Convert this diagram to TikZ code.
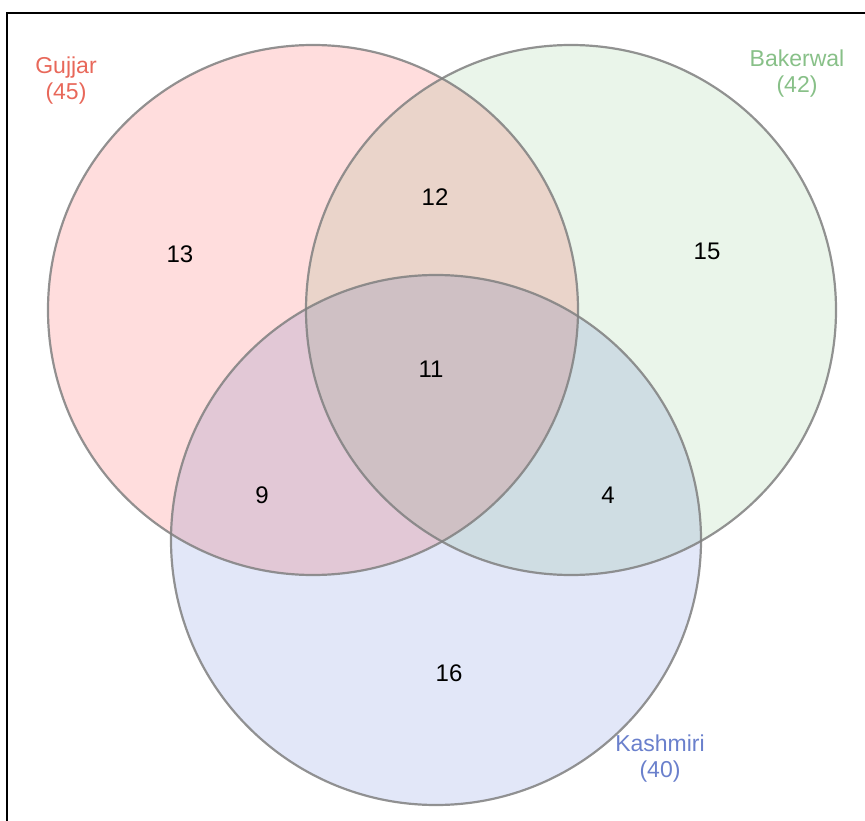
\documentclass[tikz,border=0pt]{standalone}
\usepackage{fontspec}
\setmainfont{Liberation Sans}
\definecolor{gujjarfill}{HTML}{FFDDDD}
\definecolor{bakerwalfill}{HTML}{EAF5EA}
\definecolor{kashmirifill}{HTML}{E2E7F8}
\definecolor{gujjartext}{HTML}{E8685A}
\definecolor{bakerwaltext}{HTML}{88C088}
\definecolor{kashmiritext}{HTML}{6A80CC}
\tikzset{
  setfill/.style={circle, fill=#1, minimum size=530pt, inner sep=0pt},
  rim/.style={draw=black!50, line width=2.2pt, draw opacity=0.85},
  count/.style={font=\fontsize{24}{26}\selectfont},
  setname/.style={font=\fontsize{23}{26}\selectfont, text=#1, align=center}
}
\begin{document}
\begin{tikzpicture}[x=1pt, y=-1pt]
  \useasboundingbox (0,0) rectangle (865,821);
  \clip (0,0) rectangle (865,821);
  \draw[line width=2pt] (7,840) -- (7,13) -- (880,13);
  % the three sets
  \begin{scope}[blend group=multiply]
    \node[setfill=gujjarfill]   (gujjar)   at (313,310) {};
    \node[setfill=bakerwalfill] (bakerwal) at (571,310) {};
    \node[setfill=kashmirifill] (kashmiri) at (436,540) {};
  \end{scope}
  \draw[rim] (gujjar.center)   circle[radius=265pt];
  \draw[rim] (bakerwal.center) circle[radius=265pt];
  \draw[rim] (kashmiri.center) circle[radius=265pt];
  % labels
  \node[setname=gujjartext]   (gujjarlabel)   at (66,81)  {Gujjar\\(45)};
  \node[setname=bakerwaltext] (bakerwallabel) at (797,74) {Bakerwal\\(42)};
  \node[setname=kashmiritext] (kashmirilabel) at (660,759) {Kashmiri\\(40)};
  % region counts
  \node[count] (g)   at (180,254) {13};
  \node[count] (gb)  at (435,197) {12};
  \node[count] (b)   at (707,251) {15};
  \node[count] (gbk) at (431,369) {11};
  \node[count] (gk)  at (262,495) {9};
  \node[count] (bk)  at (608,495) {4};
  \node[count] (k)   at (449,673) {16};
\end{tikzpicture}
\end{document}
